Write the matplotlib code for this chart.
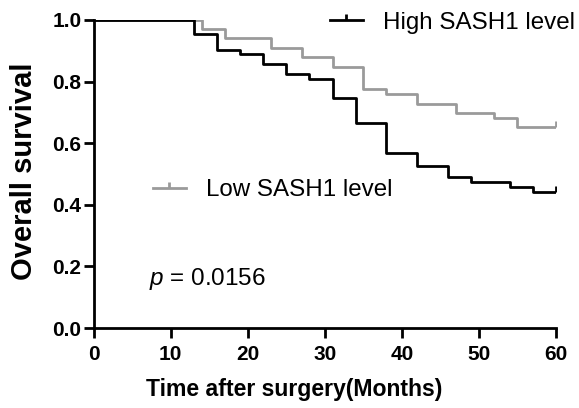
import numpy as np
import matplotlib.pyplot as plt
from matplotlib.path import Path
from matplotlib.lines import Line2D

plt.rcParams['font.family'] = ['Liberation Sans', 'DejaVu Sans']
plt.rcParams['mathtext.fontset'] = 'custom'
plt.rcParams['mathtext.it'] = 'Liberation Sans:italic'
plt.rcParams['mathtext.rm'] = 'Liberation Sans'

# Kaplan-Meier step data (months, survival)
high_t = [0, 13, 16, 19, 22, 25, 28, 31, 34, 38, 42, 46, 49, 54, 57, 60]
high_s = [1.0, 0.955, 0.903, 0.889, 0.856, 0.825, 0.808, 0.746, 0.665, 0.569,
          0.526, 0.491, 0.475, 0.459, 0.443, 0.443]
low_t = [0, 14, 17, 23, 27, 31, 35, 38, 42, 47, 52, 55, 60]
low_s = [1.0, 0.970, 0.940, 0.908, 0.879, 0.848, 0.775, 0.759, 0.726, 0.697,
         0.681, 0.652, 0.652]

x_ticks = [0, 10, 20, 30, 40, 50, 60]
y_ticks = [0.0, 0.2, 0.4, 0.6, 0.8, 1.0]
p_text = "$p$ = 0.0156"

black = '#000000'
grey = '#9a9a9a'
lw = 2.0

# half tick pointing up, used as the censor mark
censor = Path([(0, 0), (0, 1)])

fig = plt.figure(figsize=(5.79, 4.08), dpi=100)
ax = fig.add_axes([0.162, 0.196, 0.798, 0.755])

ax.step(low_t, low_s, where='post', color=grey, lw=lw)
ax.step(high_t, high_s, where='post', color=black, lw=lw)
ax.plot(low_t[-1], low_s[-1], marker=censor, ms=9, mew=lw, color=grey)
ax.plot(high_t[-1], high_s[-1], marker=censor, ms=9, mew=lw, color=black)

ax.set_xlim(0, 60)
ax.set_ylim(0, 1.0)
ax.set_xticks(x_ticks)
ax.set_yticks(y_ticks)
ax.set_yticklabels([f"{v:.1f}" for v in y_ticks])
for s in ['top', 'right']:
    ax.spines[s].set_visible(False)
for s in ['left', 'bottom']:
    ax.spines[s].set_linewidth(lw)
ax.tick_params(width=lw, length=7, labelsize=15, direction='out')
ax.tick_params(axis='x', pad=5)
ax.tick_params(axis='y', pad=2)
for lab in ax.get_xticklabels() + ax.get_yticklabels():
    lab.set_fontweight('bold')

# the x label sits left of centre in the original
ax.set_xlabel("Time after surgery(Months)", fontsize=16.6, fontweight='bold')
ax.xaxis.set_label_coords(0.433, -0.162)
ax.set_ylabel("Overall survival", fontsize=21, fontweight='bold')
ax.yaxis.set_label_coords(-0.12, 0.51)

# legend entries placed separately, as in the original
h_high = Line2D([], [], color=black, lw=lw, marker=censor, ms=9, mew=lw)
h_low = Line2D([], [], color=grey, lw=lw, marker=censor, ms=9, mew=lw)
leg_kw = dict(frameon=False, fontsize=17.4, numpoints=1, handlelength=1.36,
              handletextpad=0.83, borderpad=0, borderaxespad=0,
              loc='center left', bbox_transform=fig.transFigure)
leg1 = ax.legend([h_high], ["High SASH1 level"], bbox_to_anchor=(0.570, 0.944), **leg_kw)
ax.add_artist(leg1)
ax.legend([h_low], ["Low SASH1 level"], bbox_to_anchor=(0.264, 0.534), **leg_kw)

ax.text(0.119, 0.14, p_text, transform=ax.transAxes, fontsize=17.5,
        ha='left', va='baseline')

fig.savefig('out.png', dpi=100)
